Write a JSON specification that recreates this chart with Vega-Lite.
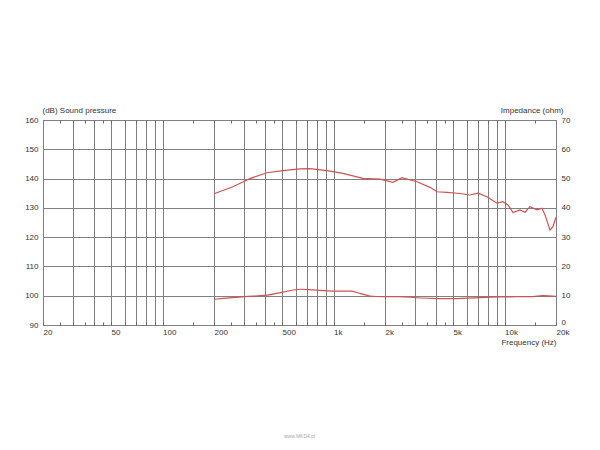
{
  "$schema": "https://vega.github.io/schema/vega-lite/v6.json",
  "autosize": {"type": "none"},
  "width": 513,
  "height": 205,
  "padding": {"left": 43, "top": 120, "right": 44, "bottom": 125},
  "background": "white",
  "config": {
    "view": {"stroke": "#444", "strokeWidth": 1},
    "font": "Liberation Sans",
    "axis": {"labelFont": "Liberation Sans", "titleFont": "Liberation Sans", "labelFontSize": 8, "titleFontSize": 8, "labelColor": "#333", "titleColor": "#333", "titleFontWeight": "normal", "domain": false}
  },
  "title": {"text": "www.MKD4.pl", "orient": "bottom", "fontSize": 5, "color": "#aaa", "fontWeight": "normal", "offset": 88, "anchor": "middle"},
  "datasets": {
    "spl": [
      {"f": 200, "v": 134.8}, {"f": 258, "v": 137.2}, {"f": 325, "v": 140}, {"f": 408, "v": 142},
      {"f": 506, "v": 142.7}, {"f": 637, "v": 143.3}, {"f": 728, "v": 143.4}, {"f": 916, "v": 142.7},
      {"f": 1135, "v": 141.8}, {"f": 1486, "v": 140.1}, {"f": 1870, "v": 139.8}, {"f": 2228, "v": 138.7},
      {"f": 2514, "v": 140.3}, {"f": 3076, "v": 138.9}, {"f": 3664, "v": 137}, {"f": 4028, "v": 135.5},
      {"f": 4610, "v": 135.3}, {"f": 5496, "v": 134.9}, {"f": 6280, "v": 134.4}, {"f": 6998, "v": 135},
      {"f": 7892, "v": 133.8}, {"f": 9032, "v": 131.6}, {"f": 9796, "v": 132.1}, {"f": 10476, "v": 131},
      {"f": 11216, "v": 128.4}, {"f": 12312, "v": 129.3}, {"f": 13176, "v": 128.5}, {"f": 14092, "v": 130.4},
      {"f": 15486, "v": 129.3}, {"f": 16560, "v": 129.9}, {"f": 17252, "v": 127.6}, {"f": 18448, "v": 122.4},
      {"f": 19200, "v": 123.6}, {"f": 20000, "v": 126.8}
    ],
    "imp": [
      {"f": 200, "v": 8.8}, {"f": 303, "v": 9.7}, {"f": 408, "v": 10.2}, {"f": 506, "v": 11.2},
      {"f": 637, "v": 12.2}, {"f": 759, "v": 12.0}, {"f": 993, "v": 11.6}, {"f": 1248, "v": 11.6},
      {"f": 1428, "v": 10.8}, {"f": 1634, "v": 9.9}, {"f": 1946, "v": 9.7}, {"f": 2450, "v": 9.7},
      {"f": 3076, "v": 9.3}, {"f": 3818, "v": 9.1}, {"f": 4798, "v": 9.0}, {"f": 6035, "v": 9.2},
      {"f": 9412, "v": 9.6}, {"f": 14660, "v": 9.7}, {"f": 16780, "v": 10.0}, {"f": 20000, "v": 9.8}
    ]
  },
  "layer": [
    {
      "data": {"name": "spl"},
      "mark": {"type": "line", "color": "#cf5252", "strokeWidth": 1.2, "clip": true},
      "encoding": {
        "x": {
          "field": "f", "type": "quantitative",
          "scale": {"type": "log", "domain": [20, 20000], "nice": false},
          "axis": {
            "orient": "bottom",
            "values": [20, 25, 30, 35, 40, 45, 50, 60, 70, 80, 90, 100, 150, 200, 250, 300, 350, 400, 450, 500, 600, 700, 800, 900, 1000, 1500, 2000, 2500, 3000, 3500, 4000, 4500, 5000, 6000, 7000, 8000, 9000, 10000, 15000, 20000],
            "labelExpr": "indexof([20,50,100,200,500], datum.value) >= 0 ? datum.value + '' : (indexof([1000,2000,5000,10000,20000], datum.value) >= 0 ? (datum.value/1000) + 'k' : '')",
            "labelAlign": "left",
            "labelBaseline": "top",
            "labelPadding": 6,
            "labelOverlap": false,
            "labelFlush": false,
            "labelBound": false,
            "ticks": true,
            "tickSize": -3,
            "tickColor": "#666",
            "grid": true,
            "gridColor": "#808080",
            "gridWidth": 1,
            "gridOpacity": {"condition": {"test": "indexof([25,35,45,150,250,350,450,1500,2500,3500,4500,15000], datum.value) >= 0", "value": 0}, "value": 1},
            "title": "Frequency  (Hz)",
            "titleX": 513,
            "titleY": 17,
            "titleAlign": "right",
            "titleBaseline": "middle",
            "titleAnchor": null
          }
        },
        "y": {
          "field": "v", "type": "quantitative",
          "scale": {"domain": [90, 160], "nice": false, "zero": false},
          "axis": {
            "orient": "left",
            "values": [90, 100, 110, 120, 130, 140, 150, 160],
            "ticks": false,
            "labelPadding": 5,
            "grid": true,
            "gridColor": "#808080",
            "title": "(dB)  Sound pressure",
            "titleAngle": 0,
            "titleX": -1,
            "titleY": -10,
            "titleAlign": "left",
            "titleBaseline": "middle"
          }
        }
      }
    },
    {
      "data": {"name": "imp"},
      "mark": {"type": "line", "color": "#cf5252", "strokeWidth": 1.2, "clip": true, "interpolate": "monotone"},
      "encoding": {
        "x": {
          "field": "f", "type": "quantitative",
          "scale": {"type": "log", "domain": [20, 20000], "nice": false},
          "axis": {
            "orient": "top",
            "values": [25, 30, 35, 40, 45, 50, 60, 70, 80, 90, 100, 150, 200, 250, 300, 350, 400, 450, 500, 600, 700, 800, 900, 1000, 1500, 2000, 2500, 3000, 3500, 4000, 4500, 5000, 6000, 7000, 8000, 9000, 10000, 15000],
            "labels": false,
            "ticks": true,
            "tickSize": -3,
            "tickColor": "#666",
            "grid": false,
            "title": null
          }
        },
        "y": {
          "field": "v", "type": "quantitative",
          "scale": {"domain": [0, 70], "nice": false},
          "axis": {
            "orient": "right",
            "values": [0, 10, 20, 30, 40, 50, 60, 70],
            "ticks": false,
            "labelPadding": 5,
            "labelOffset": {"condition": {"test": "datum.value === 0", "value": -3}, "value": 0},
            "grid": false,
            "title": "Impedance  (ohm)",
            "titleAngle": 0,
            "titleX": 7,
            "titleY": -10,
            "titleAlign": "right",
            "titleBaseline": "middle"
          }
        }
      }
    }
  ],
  "resolve": {"scale": {"y": "independent"}, "axis": {"x": "independent", "y": "independent"}}
}
